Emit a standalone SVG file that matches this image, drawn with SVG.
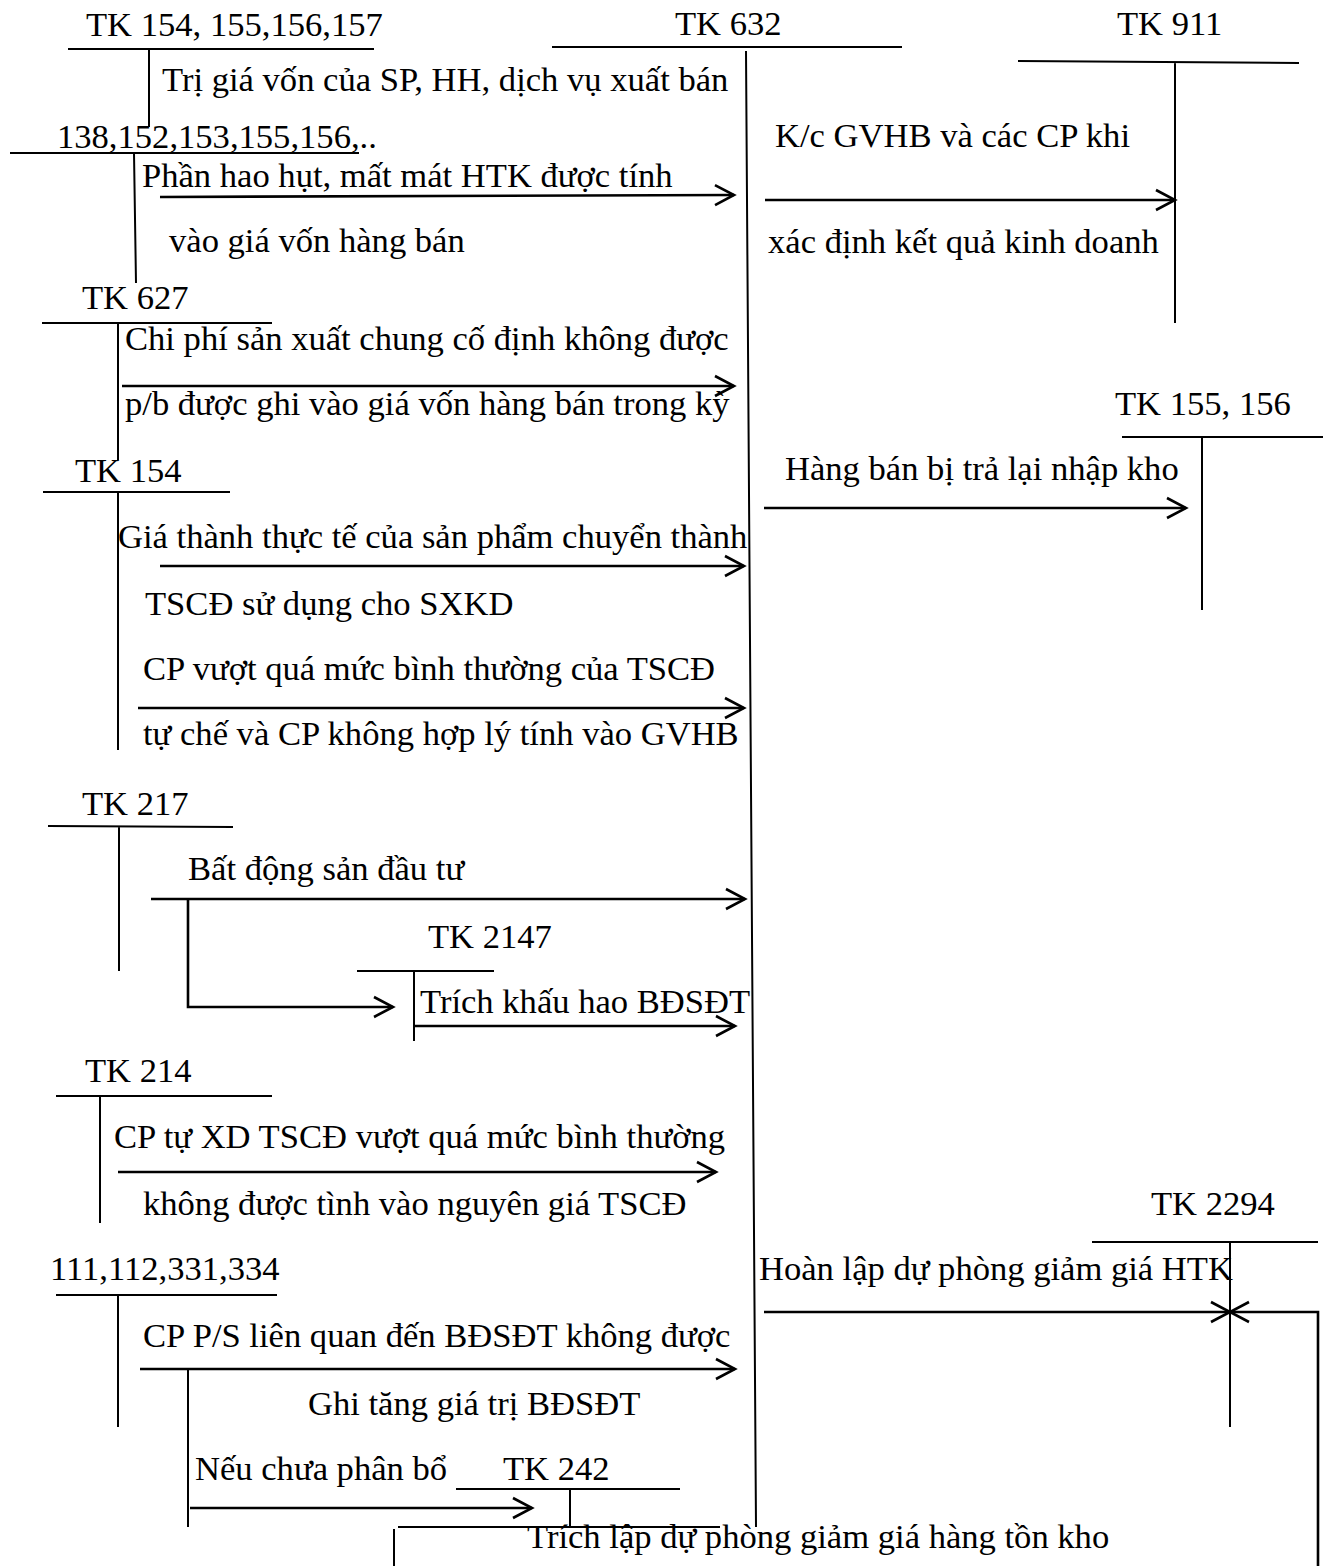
<svg xmlns="http://www.w3.org/2000/svg" width="1323" height="1566" viewBox="0 0 1323 1566">
<style>
text{font-family:"Liberation Serif","Times New Roman",serif;font-size:34.6px;fill:#000}
.t{stroke:#000;stroke-width:2;fill:none}
.a{stroke:#000;stroke-width:2.6;fill:none;marker-end:url(#ah)}
</style>
<defs>
<marker id="ah" markerUnits="userSpaceOnUse" markerWidth="24" markerHeight="24" viewBox="0 0 24 24" refX="21" refY="12" orient="auto" overflow="visible">
<path d="M2,2 L21,12 L2,22" fill="none" stroke="#000" stroke-width="2.6"/>
</marker>
</defs>
<rect width="1323" height="1566" fill="#fff"/>
<g id="tk154-157"><text x="86" y="36">TK 154, 155,156,157</text><path class="t" d="M68,49H374M149,49V127"/></g>
<g id="tk632"><text x="675" y="35">TK 632</text><path class="t" d="M552,47H902M746,51L756,1527"/></g>
<g id="tk911"><text x="1117" y="35">TK 911</text><path class="t" d="M1018,61L1299,63M1175,63V323"/></g>
<g id="tk138"><text x="57" y="148">138,152,153,155,156,..</text><path class="t" d="M10,153H359M134,153L136,283"/></g>
<g id="tk627"><text x="82" y="309">TK 627</text><path class="t" d="M42,323H272M118,323V460"/></g>
<g id="tk155-156"><text x="1115" y="415">TK 155, 156</text><path class="t" d="M1122,437H1323M1202,437V610"/></g>
<g id="tk154"><text x="75" y="482">TK 154</text><path class="t" d="M43,492H230M118,492V750"/></g>
<g id="tk217"><text x="82" y="815">TK 217</text><path class="t" d="M48,826L233,827M119,826V971"/></g>
<g id="tk2147"><text x="428" y="948">TK 2147</text><path class="t" d="M357,971H494M414,971V1041"/></g>
<g id="tk214"><text x="85" y="1082">TK 214</text><path class="t" d="M56,1096H272M100,1096V1223"/></g>
<g id="tk2294"><text x="1151" y="1215">TK 2294</text><path class="t" d="M1092,1242H1318M1230,1243V1427"/></g>
<g id="tk111"><text x="50" y="1280">111,112,331,334</text><path class="t" d="M56,1295H277M118,1295V1427"/></g>
<g id="tk242"><text x="503" y="1480">TK 242</text><path class="t" d="M456,1489H680M570,1489V1526"/></g>
<g id="labels">
<text x="162" y="91">Trị giá vốn của SP, HH, dịch vụ xuất bán</text>
<text x="775" y="147">K/c GVHB và các CP khi</text>
<text x="142" y="187">Phần hao hụt, mất mát HTK được tính</text>
<text x="169" y="252">vào giá vốn hàng bán</text>
<text x="768" y="253">xác định kết quả kinh doanh</text>
<text x="125" y="350">Chi phí sản xuất chung cố định không được</text>
<text x="125" y="415">p/b được ghi vào giá vốn hàng bán trong kỳ</text>
<text x="785" y="480">Hàng bán bị trả lại nhập kho</text>
<text x="118" y="548">Giá thành thực tế của sản phẩm chuyển thành</text>
<text x="145" y="615">TSCĐ sử dụng cho SXKD</text>
<text x="143" y="680">CP vượt quá mức bình thường của TSCĐ</text>
<text x="143" y="745">tự chế và CP không hợp lý tính vào GVHB</text>
<text x="188" y="880">Bất động sản đầu tư</text>
<text x="420" y="1013">Trích khấu hao BĐSĐT</text>
<text x="114" y="1148">CP tự XD TSCĐ vượt quá mức bình thường</text>
<text x="143" y="1215">không được tình vào nguyên giá TSCĐ</text>
<text x="759" y="1280">Hoàn lập dự phòng giảm giá HTK</text>
<text x="143" y="1347">CP P/S liên quan đến BĐSĐT không được</text>
<text x="308" y="1415">Ghi tăng giá trị BĐSĐT</text>
<text x="195" y="1480">Nếu chưa phân bổ</text>
<text x="527" y="1548">Trích lập dự phòng giảm giá hàng tồn kho</text>
</g>
<g id="connectors">
<path class="a" d="M160,197L734,195"/>
<path class="a" d="M765,200H1175"/>
<path class="a" d="M122,386H734"/>
<path class="a" d="M764,508H1186"/>
<path class="a" d="M160,566H744"/>
<path class="a" d="M138,708H744"/>
<path class="a" d="M151,899H745"/>
<path class="a" d="M188,899V1007H393"/>
<path class="a" d="M415,1026H735"/>
<path class="a" d="M118,1172H716"/>
<path class="a" d="M764,1312H1230"/>
<path class="a" d="M1318,1566V1312H1230"/>
<path class="a" d="M140,1369H735"/>
<path class="t" d="M188,1369V1527"/>
<path class="a" d="M190,1508H532"/>
<path class="t" d="M398,1527H720M394,1529V1566"/>
</g>
</svg>
